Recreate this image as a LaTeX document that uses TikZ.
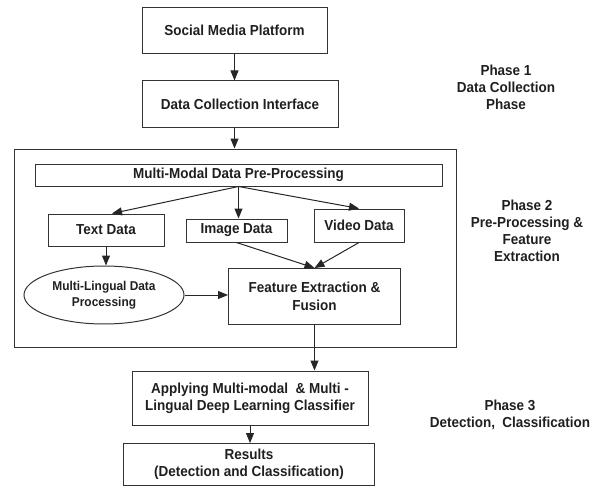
\documentclass[tikz,border=0pt]{standalone}
\usepackage{fontspec}
\setmainfont[FakeStretch=0.93]{Liberation Sans}
\usetikzlibrary{arrows.meta,shapes.geometric,calc}
\begin{document}
\begin{tikzpicture}[x=1pt,y=-1pt,
  every node/.style={font=\bfseries\fontsize{14.5}{17}\selectfont, text=black!88},
  box/.style={draw=black!80, line width=1pt, rectangle, inner sep=0pt, align=center},
  oval/.style={draw=black!80, line width=1pt, ellipse, inner sep=0pt, align=center},
  arr/.style={draw=black!85, line width=1pt, -{Triangle[length=10pt,width=8pt]}},
  phase/.style={align=center}]
\useasboundingbox (0,0) rectangle (603,487);
\node[box, minimum width=185pt, minimum height=46pt] (smp) at (234.5,30.5) {Social Media Platform};
\node[box, minimum width=196pt, minimum height=46pt] (dci) at (240,104) {Data Collection Interface};
\node[box, minimum width=442pt, minimum height=198pt] (outer) at (235,248) {};
\node[box, minimum width=407pt, minimum height=22pt] (mm) at (238.5,175) {Multi-Modal Data Pre-Processing};
\node[box, minimum width=116pt, minimum height=32pt] (txt) at (106,230) {Text Data};
\node[box, minimum width=101pt, minimum height=23pt] (img) at (236.5,230.5) {Image Data};
\node[box, minimum width=90pt, minimum height=33pt] (vid) at (359,225.5) {Video Data};
\node[oval, minimum width=160pt, minimum height=58pt, font=\bfseries\fontsize{12.8}{16}\selectfont] (ell) at (104,295) {Multi-Lingual Data\\Processing};
\node[box, minimum width=172pt, minimum height=56pt, font=\bfseries\fontsize{14.5}{18}\selectfont] (fe) at (314.5,296.5) {Feature Extraction \&\\Fusion};
\node[box, minimum width=236pt, minimum height=54pt] (app) at (250,398) {Applying Multi-modal\ \ \& Multi -\\Lingual Deep Learning Classifier};
\node[box, minimum width=251pt, minimum height=42pt] (res) at (249,464.5) {Results\\(Detection and Classification)};
\node[phase] (p1) at (506,87) {Phase 1\\Data Collection\\Phase};
\node[phase] (p2) at (527,231) {Phase 2\\Pre-Processing \&\\Feature\\Extraction};
\node[phase] (p3) at (510,415) {Phase 3\\Detection,\ \ Classification};
\draw[arr] (smp.south) -- (smp.south |- dci.north);
\draw[arr] (smp.south |- dci.south) -- (smp.south |- outer.north);
\draw[arr] (mm.south) -- ($(txt.north)+(6,0)$);
\draw[arr] (mm.south) -- (mm.south |- img.north);
\draw[arr] (mm.south) -- (vid.north);
\draw[arr] (txt.south) -- (txt.south |- ell.north);
\draw[arr] (ell.east) -- (ell.east -| fe.west);
\draw[arr] (img.south) -- (fe.north);
\draw[arr] (vid.south) -- (fe.north);
\draw[arr] (fe.south) -- (fe.south |- app.north);
\draw[arr] (app.south) -- (app.south |- res.north);
\end{tikzpicture}
\end{document}
